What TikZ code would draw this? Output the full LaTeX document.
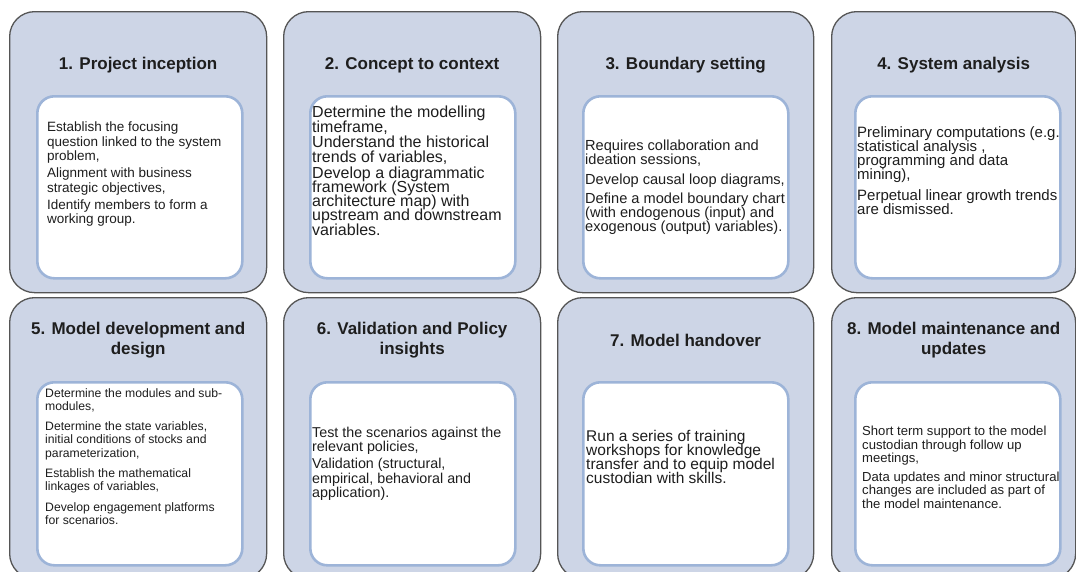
\documentclass[tikz,border=0pt]{standalone}
\usepackage{fontspec}
\setmainfont{Liberation Sans}
\usepackage{tikz}

\definecolor{stagefill}{HTML}{CDD5E6}
\definecolor{stageline}{HTML}{555555}
\definecolor{cardline}{HTML}{9DB4D8}
\definecolor{ink}{HTML}{1E1E1E}

\newcommand{\bodysize}[2]{\fontsize{#1}{#2}\selectfont\lineskiplimit=-20pt\relax}
\newcommand{\headsize}{\fontsize{17}{20}\selectfont\bfseries\lineskiplimit=-20pt\relax}

\tikzset{
    stage/.style={draw=stageline, line width=1.3pt, fill=stagefill, rounded corners=25pt,
        anchor=north west, minimum height=281pt, inner sep=0pt},
    card/.style={draw=cardline, line width=2.6pt, fill=white, rounded corners=17pt,
        anchor=north west, minimum width=205pt, inner sep=0pt},
    heading/.style={font=\headsize, text=ink, align=center},
    body/.style={text=ink, align=left, anchor=north west, inner sep=0pt}
}

\begin{document}
\begin{tikzpicture}[x=1pt, y=-1pt]
    \useasboundingbox (0,0) rectangle (1076,571);
    \clip (0,0) rectangle (1076,571);
    % Stages
    \foreach \i/\x/\y/\w in {1/9/11/257pt, 2/283/11/257pt, 3/557/11/256pt, 4/831/11/244pt,
                            5/9/297/257pt, 6/283/297/257pt, 7/557/297/256pt, 8/831/297/244pt} {
        \node[stage, minimum width=\w] (Stage-\i) at (\x,\y) {};
    }
    % Cards
    \foreach \i/\x/\y/\h in {1/36/95/182pt, 2/309/95/182pt, 3/582/95/182pt, 4/854/95/182pt,
                            5/36/381/183pt, 6/309/381/183pt, 7/582/381/183pt, 8/854/381/183pt} {
        \node[card, minimum height=\h] (Card-\i) at (\x,\y) {};
    }
    % Headings
    \foreach \name/\i/\y in {{1. Project inception}/1/65, {2. Concept to context}/2/65,
                            {3. Boundary setting}/3/65, {4. System analysis}/4/65,
                            {5. Model development and\\design}/5/340,
                            {6. Validation and Policy\\insights}/6/340,
                            {7. Model handover}/7/340,
                            {8. Model maintenance and\\updates}/8/340} {
        \node[heading] (Heading-\i) at (Stage-\i.north |- 0,\y) {\name};
    }
    % Bodies
    \foreach \i/\x/\y/\fs/\ls/\txt in {
        1/47/122/13.5/14.4/{Establish the focusing\\question linked to the system\\problem,\\[2.6pt]Alignment with business\\strategic objectives,\\[2.6pt]Identify members to form a\\working group.},
        2/312/106/16/14.3/{Determine the modelling\\timeframe,\\[1.5pt]Understand the historical\\trends of variables,\\[1.5pt]Develop a diagrammatic\\framework (System\\architecture map) with\\upstream and downstream\\variables.},
        3/585/140/14.6/14.2/{Requires collaboration and\\ideation sessions,\\[5pt]Develop causal loop diagrams,\\[5pt]Define a model boundary chart\\(with endogenous (input) and\\exogenous (output) variables).},
        4/857/126/15/14.1/{Preliminary computations (e.g.\\statistical analysis ,\\programming and data\\mining),\\[7pt]Perpetual linear growth trends\\are dismissed.},
        5/45/388/12.2/13.3/{Determine the modules and sub-\\modules,\\[7pt]Determine the state variables,\\initial conditions of stocks and\\parameterization,\\[7pt]Establish the mathematical\\linkages of variables,\\[7pt]Develop engagement platforms\\for scenarios.},
        6/312/427/14.3/14.2/{Test the scenarios against the\\relevant policies,\\[3pt]Validation (structural,\\empirical, behavioral and\\application).},
        7/586/430/15.5/14/{Run a series of training\\workshops for knowledge\\transfer and to equip model\\custodian with skills.},
        8/862/426/13.1/13.5/{Short term support to the model\\custodian through follow up\\meetings,\\[4.8pt]Data updates and minor structural\\changes are included as part of\\the model maintenance.}} {
        \node[body, font=\bodysize{\fs}{\ls}] (Body-\i) at (\x,\y) {\txt};
    }
\end{tikzpicture}
\end{document}
